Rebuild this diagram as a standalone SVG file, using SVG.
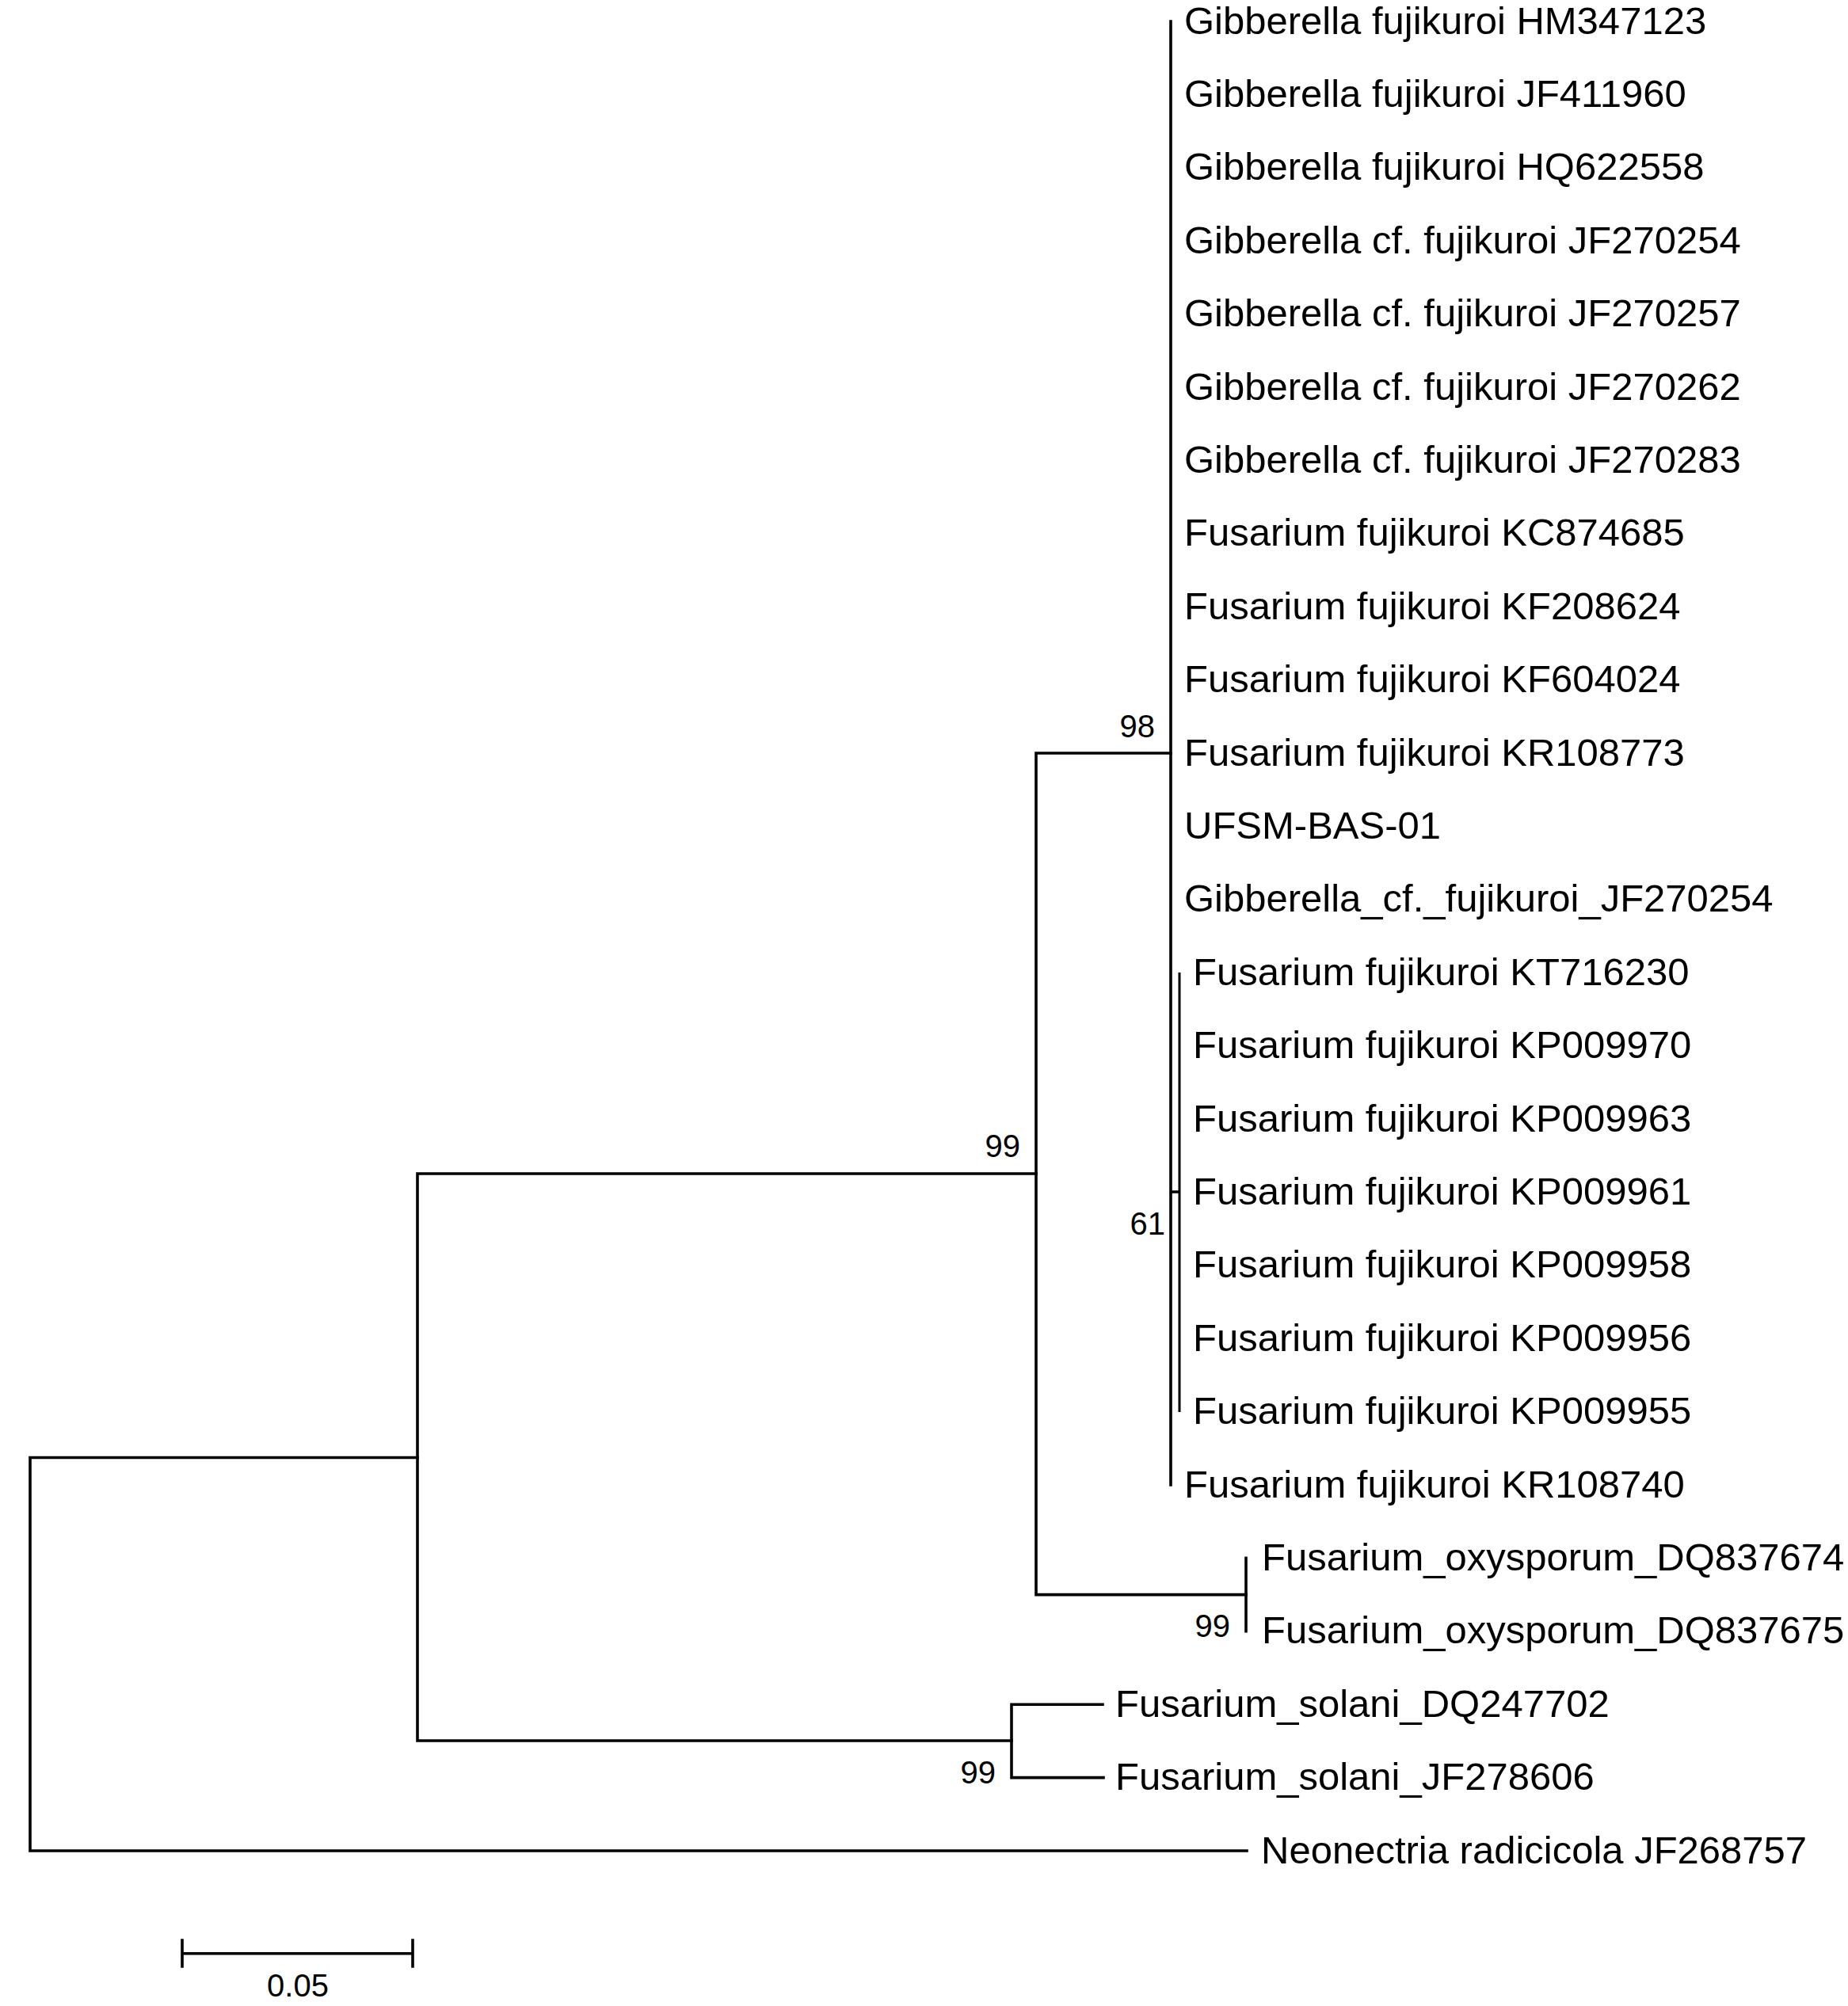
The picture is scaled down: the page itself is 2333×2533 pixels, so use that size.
<svg xmlns="http://www.w3.org/2000/svg" width="2333" height="2533" viewBox="0 0 2333 2533">
<style>
.leaf{font-family:"Liberation Sans",Arial,sans-serif;font-size:49px;fill:#000}
.bs{font-family:"Liberation Sans",Arial,sans-serif;font-size:40px;fill:#000;text-anchor:end}
.br{stroke:#000;stroke-width:3.6;fill:none;stroke-linecap:square}
.thin{stroke:#000;stroke-width:3;fill:none}
</style>
<rect width="2333" height="2533" fill="#fff"/>
<g id="connectors">
<path class="br" d="M38,1840.5 V2337 M38,1840.5 H527 M38,2337 H1574"/>
<path class="br" d="M527,1482 V2198 M527,1482 H1308 M527,2198 H1277"/>
<path class="br" d="M1308,951 V2013.6 M1308,951 H1478 M1308,2013.6 H1573"/>
<path class="br" d="M1478,27 V1875 M1478,1505 H1488"/>
<path class="thin" d="M1489,1228 V1783"/>
<path class="br" d="M1573,1967.4 V2059.8"/>
<path class="br" d="M1277,2152.2 V2244.6 M1277,2152.2 H1392 M1277,2244.6 H1393"/>
</g>
<g id="node-root"></g>
<g id="node-99a"><text class="bs" x="1288" y="1461">99</text></g>
<g id="node-98"><text class="bs" x="1458" y="931">98</text></g>
<g id="node-61"><text class="bs" x="1471" y="1559">61</text></g>
<g id="node-99-oxy"><text class="bs" x="1553" y="2067">99</text></g>
<g id="node-99-solani"><text class="bs" x="1257" y="2252">99</text></g>
<g id="leaves">
<g id="leaf-0"><text class="leaf" x="1495" y="42.5">Gibberella fujikuroi HM347123</text></g>
<g id="leaf-1"><text class="leaf" x="1495" y="134.9">Gibberella fujikuroi JF411960</text></g>
<g id="leaf-2"><text class="leaf" x="1495" y="227.3">Gibberella fujikuroi HQ622558</text></g>
<g id="leaf-3"><text class="leaf" x="1495" y="319.7">Gibberella cf. fujikuroi JF270254</text></g>
<g id="leaf-4"><text class="leaf" x="1495" y="412.1">Gibberella cf. fujikuroi JF270257</text></g>
<g id="leaf-5"><text class="leaf" x="1495" y="504.5">Gibberella cf. fujikuroi JF270262</text></g>
<g id="leaf-6"><text class="leaf" x="1495" y="596.9">Gibberella cf. fujikuroi JF270283</text></g>
<g id="leaf-7"><text class="leaf" x="1495" y="689.3">Fusarium fujikuroi KC874685</text></g>
<g id="leaf-8"><text class="leaf" x="1495" y="781.7">Fusarium fujikuroi KF208624</text></g>
<g id="leaf-9"><text class="leaf" x="1495" y="874.1">Fusarium fujikuroi KF604024</text></g>
<g id="leaf-10"><text class="leaf" x="1495" y="966.5">Fusarium fujikuroi KR108773</text></g>
<g id="leaf-11"><text class="leaf" x="1495" y="1058.9">UFSM-BAS-01</text></g>
<g id="leaf-12"><text class="leaf" x="1495" y="1151.3">Gibberella_cf._fujikuroi_JF270254</text></g>
<g id="leaf-13"><text class="leaf" x="1506" y="1243.7">Fusarium fujikuroi KT716230</text></g>
<g id="leaf-14"><text class="leaf" x="1506" y="1336.1">Fusarium fujikuroi KP009970</text></g>
<g id="leaf-15"><text class="leaf" x="1506" y="1428.5">Fusarium fujikuroi KP009963</text></g>
<g id="leaf-16"><text class="leaf" x="1506" y="1520.9">Fusarium fujikuroi KP009961</text></g>
<g id="leaf-17"><text class="leaf" x="1506" y="1613.3">Fusarium fujikuroi KP009958</text></g>
<g id="leaf-18"><text class="leaf" x="1506" y="1705.7">Fusarium fujikuroi KP009956</text></g>
<g id="leaf-19"><text class="leaf" x="1506" y="1798.1">Fusarium fujikuroi KP009955</text></g>
<g id="leaf-20"><text class="leaf" x="1495" y="1890.5">Fusarium fujikuroi KR108740</text></g>
<g id="leaf-21"><text class="leaf" x="1593" y="1982.9">Fusarium_oxysporum_DQ837674</text></g>
<g id="leaf-22"><text class="leaf" x="1593" y="2075.3">Fusarium_oxysporum_DQ837675</text></g>
<g id="leaf-23"><text class="leaf" x="1408" y="2167.7">Fusarium_solani_DQ247702</text></g>
<g id="leaf-24"><text class="leaf" x="1408" y="2260.1">Fusarium_solani_JF278606</text></g>
<g id="leaf-25"><text class="leaf" x="1592" y="2352.5">Neonectria radicicola JF268757</text></g>
</g>
<g id="scale-bar">
<path class="br" d="M230,2466.7 H521 M230,2450 V2483 M521,2450 V2483"/>
<text class="bs" x="376" y="2521" style="text-anchor:middle">0.05</text>
</g>
</svg>
